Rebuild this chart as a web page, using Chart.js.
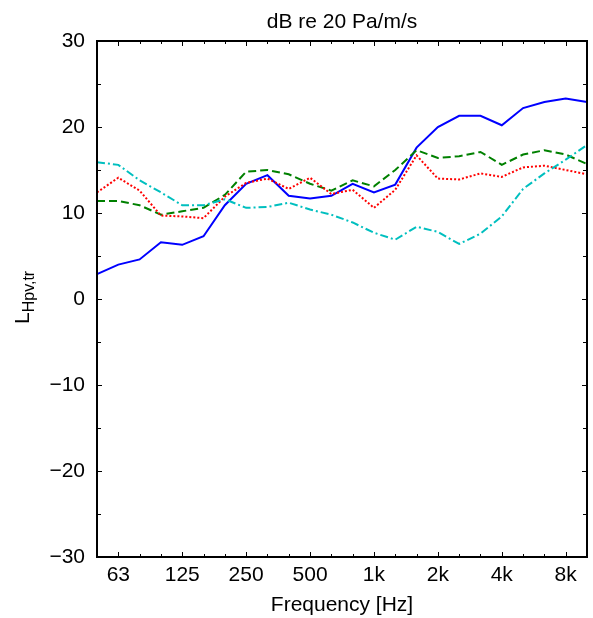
<!DOCTYPE html>
<html>
<head>
<meta charset="utf-8">
<script src="https://cdn.jsdelivr.net/npm/chart.js@4"></script>
<style>
  html, body { margin: 0; padding: 0; background: #fff; }
  #wrap { width: 593px; height: 618px; position: relative; }
</style>
</head>
<body>
<div id="wrap"><canvas id="c" width="593" height="618"></canvas></div>
<script>
// One-third octave band centre frequencies (x categories)
const bands = ['50','63','80','100','125','160','200','250','315','400','500','630','800','1k','1.25k','1.6k','2k','2.5k','3.15k','4k','5k','6.3k','8k','10k'];
// Bands that carry a tick label
const tickLabels = ['63','125','250','500','1k','2k','4k','8k'];
// Y axis range / ticks
const yMin = -30, yMax = 30, yStep = 5, yLabelStep = 10;

// Series values (dB)
const seriesBlue  = [2.9, 4.0, 4.6, 6.6, 6.3, 7.3, 10.9, 13.4, 14.4, 12.0, 11.7, 12.0, 13.4, 12.4, 13.3, 17.6, 20.0, 21.3, 21.3, 20.2, 22.2, 22.9, 23.3, 22.9];
const seriesGreen = [11.4, 11.4, 10.9, 9.8, 10.2, 10.6, 12.1, 14.8, 15.0, 14.5, 13.4, 12.6, 13.8, 13.1, 15.0, 17.3, 16.4, 16.6, 17.1, 15.6, 16.8, 17.3, 16.8, 15.7];
const seriesRed   = [12.4, 14.1, 12.6, 9.7, 9.6, 9.4, 11.9, 13.5, 14.0, 12.8, 14.1, 12.2, 12.7, 10.6, 12.7, 16.7, 14.0, 13.9, 14.6, 14.2, 15.3, 15.5, 15.0, 14.5];
const seriesCyan  = [15.9, 15.6, 13.8, 12.4, 10.9, 10.9, 11.6, 10.6, 10.7, 11.2, 10.4, 9.8, 8.9, 7.7, 6.9, 8.4, 7.8, 6.4, 7.6, 9.6, 12.8, 14.6, 16.2, 17.9];

const titleText = 'dB re 20 Pa/m/s';
const xTitle = 'Frequency [Hz]';
const yTitleMain = 'L';
const yTitleSub = 'Hpv,tr';

const FONT = '"Liberation Sans", Arial, Helvetica, sans-serif';

const framePlugin = {
  id: 'frame',
  afterDatasetsDraw(chart) {
    const ctx = chart.ctx;
    const a = chart.chartArea;
    const xs = chart.scales.x, ys = chart.scales.y;
    ctx.save();
    ctx.strokeStyle = '#000';
    ctx.lineWidth = 1;
    // ticks
    ctx.beginPath();
    bands.forEach((b, i) => {
      const px = Math.round(xs.getPixelForValue(i)) + 0.5;
      const len = tickLabels.includes(b) ? 5 : 3;
      ctx.moveTo(px, a.bottom); ctx.lineTo(px, a.bottom - len);
      ctx.moveTo(px, a.top); ctx.lineTo(px, a.top + len);
    });
    for (let v = yMin; v <= yMax; v += yStep) {
      const py = Math.round(ys.getPixelForValue(v)) + 0.5;
      const len = (v % yLabelStep === 0) ? 5 : 4;
      ctx.moveTo(a.left, py); ctx.lineTo(a.left + len, py);
      ctx.moveTo(a.right, py); ctx.lineTo(a.right - len, py);
    }
    ctx.stroke();
    // box
    ctx.lineWidth = 2;
    ctx.strokeRect(a.left, a.top, a.right - a.left, a.bottom - a.top);
    ctx.restore();
  },
  afterDraw(chart) {
    const ctx = chart.ctx;
    const a = chart.chartArea;
    const cx = (a.left + a.right) / 2;
    ctx.save();
    ctx.fillStyle = '#000';
    ctx.textAlign = 'center';
    ctx.textBaseline = 'alphabetic';
    ctx.font = '21px ' + FONT;
    ctx.fillText(titleText, cx, 27.5);
    ctx.fillText(xTitle, cx, 611);
    // y title with subscript, rotated
    ctx.translate(28.5, 324);
    ctx.rotate(-Math.PI / 2);
    ctx.textAlign = 'left';
    ctx.font = '21px ' + FONT;
    ctx.fillText(yTitleMain, 0, 0);
    const w = ctx.measureText(yTitleMain).width;
    ctx.font = '16px ' + FONT;
    ctx.fillText(yTitleSub, w, 5);
    ctx.restore();
  }
};

const mk = (label, data, color, dash, order) => ({
  label, data,
  borderColor: color,
  backgroundColor: color,
  borderWidth: 2,
  borderDash: dash,
  pointRadius: 0,
  tension: 0,
  fill: false,
  order
});

new Chart(document.getElementById('c'), {
  type: 'line',
  data: {
    labels: bands,
    datasets: [
      mk('blue', seriesBlue, '#0000FF', [], 3),
      mk('green', seriesGreen, '#008000', [8, 4], 2),
      mk('red', seriesRed, '#FF0000', [2, 2], 1),
      mk('cyan', seriesCyan, '#00BFBF', [8, 3, 2, 3], 0)
    ]
  },
  options: {
    responsive: false,
    animation: false,
    devicePixelRatio: 1,
    layout: { padding: { top: 41, right: 2.3, left: 0, bottom: 0 } },
    plugins: { legend: { display: false }, tooltip: { enabled: false }, title: { display: false } },
    scales: {
      x: {
        type: 'category',
        offset: false,
        grid: { display: false, drawTicks: false },
        border: { display: false },
        ticks: {
          autoSkip: false, maxRotation: 0, minRotation: 0,
          padding: 6,
          color: '#000',
          font: { family: FONT, size: 21 },
          callback: function(v, i) { const b = bands[i]; return tickLabels.includes(b) ? b : ''; }
        },
        afterFit(scale) { scale.height = 61; }
      },
      y: {
        min: yMin, max: yMax,
        grid: { display: false, drawTicks: false },
        border: { display: false },
        ticks: {
          stepSize: yStep,
          padding: 12,
          color: '#000',
          font: { family: FONT, size: 21 },
          callback: function(v) { return (v % yLabelStep === 0) ? String(v).replace('-', '\u2212') : ''; }
        },
        afterFit(scale) { scale.width = 97; }
      }
    }
  },
  plugins: [framePlugin]
});
</script>
</body>
</html>
